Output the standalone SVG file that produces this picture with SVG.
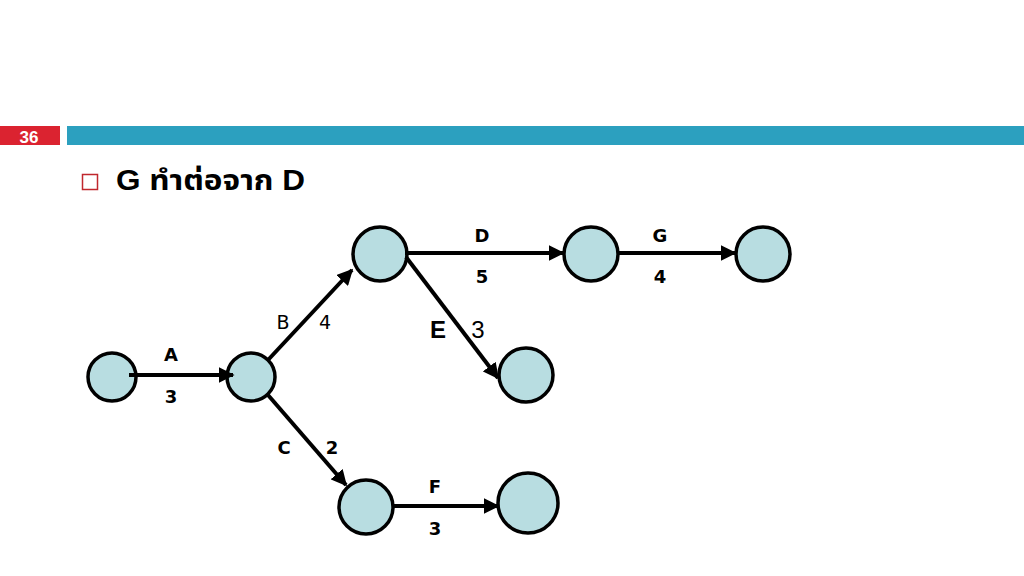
<svg xmlns="http://www.w3.org/2000/svg" width="1024" height="576" viewBox="0 0 1024 576">
<defs>
<marker id="ah" viewBox="0 0 10 10" refX="9" refY="5" markerWidth="4" markerHeight="4" markerUnits="strokeWidth" orient="auto">
<path d="M0,0 L10,5 L0,10 z" fill="#000"/>
</marker>
</defs>
<style>
.node{fill:#B8DDE1;stroke:#000;stroke-width:3.5}
.edge{stroke:#000;stroke-width:4;fill:none;marker-end:url(#ah)}
.lb{font-family:"DejaVu Sans",Verdana,sans-serif;font-weight:bold;font-size:18px;fill:#000;text-anchor:middle}
.ln{font-family:"DejaVu Sans",Verdana,sans-serif;font-size:19px;fill:#000;text-anchor:middle}
.la{font-family:"Liberation Sans",Arial,sans-serif;font-size:24px;fill:#000;text-anchor:middle}
</style>
<rect x="0" y="0" width="1024" height="576" fill="#fff"/>
<g id="header">
<rect x="0" y="126" width="60" height="19" fill="#DB2330"/>
<rect x="67" y="126" width="957" height="19" fill="#2CA0BF"/>
<text x="29" y="142.5" font-family="'Liberation Sans',Arial,sans-serif" font-weight="bold" font-size="17" fill="#fff" text-anchor="middle">36</text>
<rect x="82.5" y="174.5" width="15" height="15" fill="none" stroke="#C0272D" stroke-width="1.5"/>
<text x="116" y="190" textLength="189" lengthAdjust="spacingAndGlyphs" font-family="'Liberation Sans','Noto Sans','Noto Sans Thai',sans-serif" font-weight="bold" font-size="29" fill="#000">G ทำต่อจาก D</text>
</g>
<g id="n1"><circle class="node" cx="112" cy="377" r="24"/></g>
<g id="n2"><circle class="node" cx="251" cy="377" r="24"/></g>
<g id="n3"><circle class="node" cx="380" cy="254" r="27"/></g>
<g id="n4"><circle class="node" cx="591" cy="254" r="27"/></g>
<g id="n5"><circle class="node" cx="763" cy="254" r="27"/></g>
<g id="n6"><circle class="node" cx="526" cy="375" r="27"/></g>
<g id="n7"><circle class="node" cx="366" cy="507" r="27"/></g>
<g id="n8"><circle class="node" cx="528" cy="503" r="30"/></g>
<g id="connectors">
<line class="edge" x1="129" y1="375" x2="233" y2="375"/>
<line class="edge" x1="268" y1="360" x2="352" y2="270"/>
<line class="edge" x1="268" y1="395" x2="346" y2="485"/>
<line class="edge" x1="405" y1="253" x2="563" y2="253"/>
<line class="edge" x1="618" y1="253" x2="735" y2="253"/>
<line class="edge" x1="406" y1="257" x2="498" y2="378"/>
<line class="edge" x1="393" y1="506" x2="498" y2="506"/>
</g>
<g id="labels">
<text class="lb" x="171" y="361">A</text>
<text class="lb" x="171" y="403">3</text>
<text class="ln" x="283" y="329">B</text>
<text class="ln" x="325" y="329">4</text>
<text class="lb" x="482" y="242">D</text>
<text class="lb" x="482" y="283">5</text>
<text class="lb" x="660" y="242">G</text>
<text class="lb" x="660" y="283">4</text>
<text class="la" x="438" y="338" font-weight="bold">E</text>
<text class="la" x="478" y="338">3</text>
<text class="lb" x="284" y="454">C</text>
<text class="lb" x="332" y="454">2</text>
<text class="lb" x="435" y="493">F</text>
<text class="lb" x="435" y="535">3</text>
</g>
</svg>
